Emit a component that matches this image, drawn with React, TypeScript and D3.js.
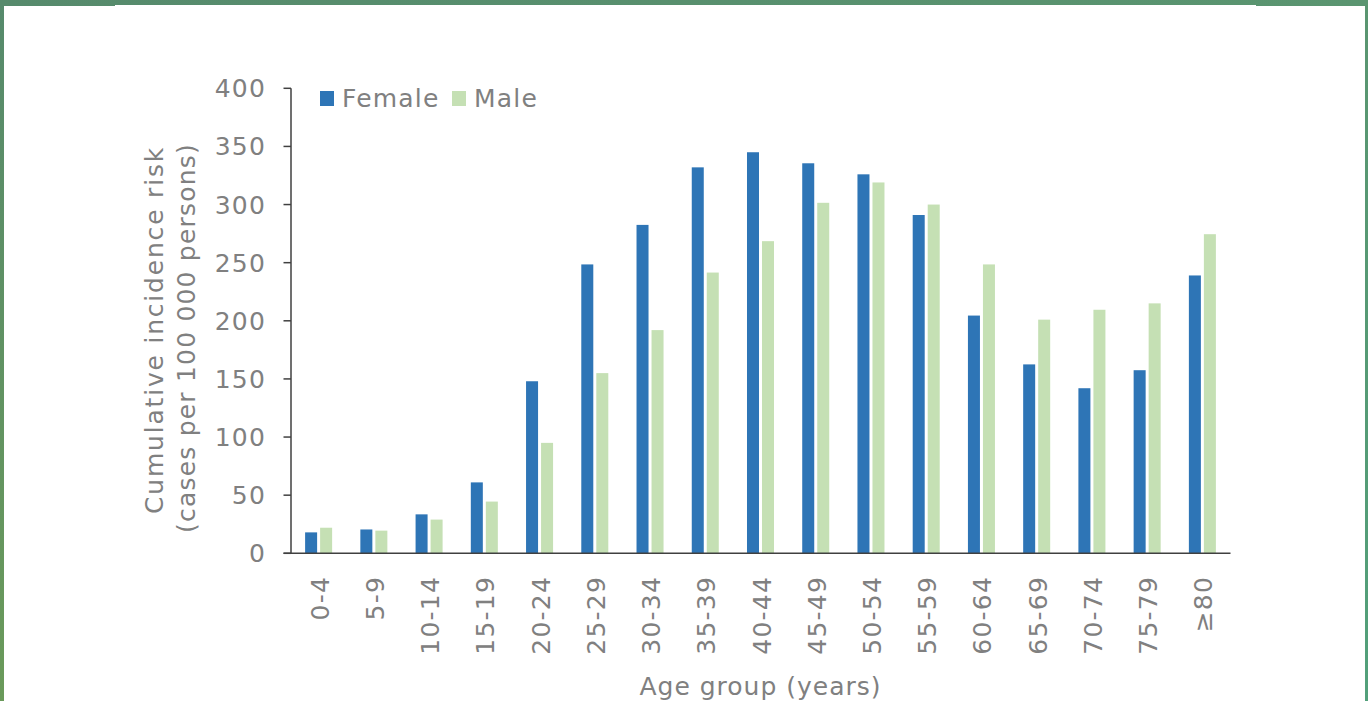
import React from "react";
import * as d3 from "d3";

const categories = ["0-4","5-9","10-14","15-19","20-24","25-29","30-34","35-39","40-44","45-49","50-54","55-59","60-64","65-69","70-74","75-79","≥80"];
const female = [18, 20.5, 33.5, 61, 148, 248.5, 282.5, 332, 345, 335.5, 326, 291, 204.5, 162.5, 142, 157.5, 239];
const male = [22, 19.5, 29, 44.5, 95, 155, 192, 241.5, 268.5, 301.5, 319, 300, 248.5, 201, 209.5, 215, 274.5];
const yTicks = [0, 50, 100, 150, 200, 250, 300, 350, 400];
const seriesNames = ["Female", "Male"];
const seriesColors = ["#2E75B6", "#C5E0B4"];

const W = 1368, H = 701;
const FONT = "'DejaVu Sans', sans-serif";
const TXT = "#808080";

export default function App() {
  const x0 = d3.scaleBand<string>().domain(categories).range([291, 1230]).padding(0);
  const x1 = d3.scaleBand<string>().domain(seriesNames).range([0, x0.bandwidth()]).paddingInner(0.2).paddingOuter(0.94);
  const y = d3.scaleLinear().domain([0, 400]).range([553.3, 88.3]);
  const series = [female, male];

  return (
    <svg width={W} height={H} style={{ position: "absolute", left: 0, top: 0 }} fontFamily={FONT}>
      <defs>
        <linearGradient id="frame" x1="0" y1="0" x2="1" y2="1">
          <stop offset="0" stopColor="#568A6C" />
          <stop offset="0.5" stopColor="#5A9570" />
          <stop offset="1" stopColor="#52A07A" />
        </linearGradient>
        <linearGradient id="leftEdge" x1="0" y1="0" x2="0" y2="1">
          <stop offset="0" stopColor="#568A6C" />
          <stop offset="1" stopColor="#6A9A5A" />
        </linearGradient>
      </defs>
      <rect x={0} y={0} width={W} height={H} fill="url(#frame)" />
      <rect x={0} y={0} width={4} height={H} fill="url(#leftEdge)" />
      <rect x={4} y={6} width={1361} height={H - 6} fill="#fff" />
      <rect x={115} y={5} width={1141} height={2} fill="#fff" />

      {/* bars */}
      {categories.map((c, i) => (
        <g key={c} transform={`translate(${x0(c)},0)`}>
          {seriesNames.map((s, k) => (
            <rect
              key={s}
              x={x1(s)}
              y={y(series[k][i])}
              width={x1.bandwidth()}
              height={y(0) - y(series[k][i])}
              fill={seriesColors[k]}
            />
          ))}
        </g>
      ))}

      {/* y axis */}
      <line x1={291} x2={291} y1={y(400)} y2={y(0)} stroke="#404040" strokeWidth={1.5} />
      {yTicks.map((t) => (
        <g key={t}>
          <line x1={283.5} x2={291} y1={y(t)} y2={y(t)} stroke="#404040" strokeWidth={1.5} />
          <text x={266} y={y(t)} dy="0.36em" textAnchor="end" fontSize={25} fill={TXT} letterSpacing={1.2}>
            {t}
          </text>
        </g>
      ))}
      {/* x axis */}
      <line x1={283.5} x2={1230.5} y1={y(0)} y2={y(0)} stroke="#404040" strokeWidth={1.5} />
      {categories.map((c) => (
        <text
          key={c}
          transform={`translate(${(x0(c) as number) + x0.bandwidth() / 2 + 10},576) rotate(-90)`}
          textAnchor="end"
          fontSize={25}
          fill={TXT}
          letterSpacing={1.2}
        >
          {c}
        </text>
      ))}

      {/* axis titles */}
      <text transform="translate(163,330) rotate(-90)" textAnchor="middle" fontSize={25} fill={TXT} letterSpacing={1.8}>
        Cumulative incidence risk
      </text>
      <text transform="translate(195,338) rotate(-90)" textAnchor="middle" fontSize={25} fill={TXT} letterSpacing={1.2}>
        (cases per 100 000 persons)
      </text>
      <text x={760.5} y={695} textAnchor="middle" fontSize={25} fill={TXT} letterSpacing={1}>
        Age group (years)
      </text>

      {/* legend */}
      {seriesNames.map((s, k) => {
        const lx = k === 0 ? 320 : 452;
        return (
          <g key={s}>
            <rect x={lx} y={91} width={14} height={15} fill={seriesColors[k]} />
            <text x={lx + 22} y={107} fontSize={25} fill={TXT} letterSpacing={1.2}>
              {s}
            </text>
          </g>
        );
      })}
    </svg>
  );
}
